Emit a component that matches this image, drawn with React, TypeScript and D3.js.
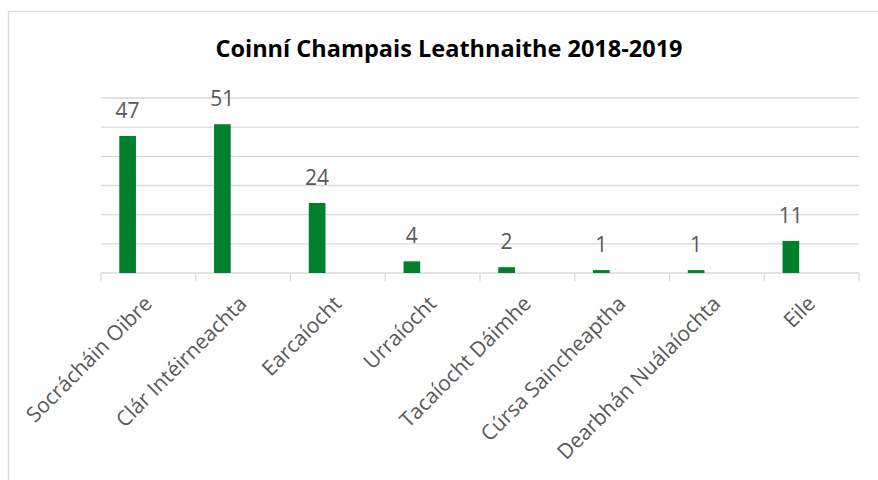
import * as d3 from "d3";

const title = "Coinní Champais Leathnaithe 2018-2019";

const categories = [
  "Socrácháin Oibre",
  "Clár Intéirneachta",
  "Earcaíocht",
  "Urraíocht",
  "Tacaíocht Dáimhe",
  "Cúrsa Saincheaptha",
  "Dearbhán Nuálaíochta",
  "Eile",
];

const values = [47, 51, 24, 4, 2, 1, 1, 11];

const gridTicks = [0, 10, 20, 30, 40, 50, 60];

const WIDTH = 878;
const HEIGHT = 480;
const MARGIN = { left: 101, right: 19, top: 98, bottom: 207 };
const BAR_COLOR = "#00802b";
const GRID_COLOR = "#d9d9d9";
const TEXT_COLOR = "#595959";
const FONT = "'Open Sans', 'DejaVu Sans', sans-serif";

export default function App() {
  const boundsWidth = WIDTH - MARGIN.left - MARGIN.right;
  const boundsHeight = HEIGHT - MARGIN.top - MARGIN.bottom;

  const xScale = d3.scaleBand<string>().domain(categories).range([0, boundsWidth]);
  const yScale = d3
    .scaleLinear()
    .domain([0, d3.max(gridTicks) as number])
    .range([boundsHeight, 0]);

  const bw = xScale.bandwidth();
  // bar sits left of the band centre, like the original's clustered layout
  const barOffset = bw * 0.193;
  const barWidth = bw * 0.176;

  return (
    <div style={{ position: "absolute", left: 0, top: 0 }}>
      <svg width={WIDTH} height={HEIGHT} style={{ display: "block" }}>
        <rect x={0} y={0} width={WIDTH} height={HEIGHT} fill="#fff" />
        <rect
          x={8.5}
          y={11.5}
          width={WIDTH + 10}
          height={HEIGHT + 10}
          fill="none"
          stroke={GRID_COLOR}
          strokeWidth={1.3}
        />
        <text
          x={449}
          y={57}
          textAnchor="middle"
          fontFamily={FONT}
          fontWeight={700}
          fontSize={23.5}
          fill="#000"
        >
          {title}
        </text>
        <g transform={`translate(${MARGIN.left},${MARGIN.top})`}>
          {gridTicks.map((t) => (
            <line
              key={t}
              x1={0}
              x2={boundsWidth}
              y1={yScale(t)}
              y2={yScale(t)}
              stroke={GRID_COLOR}
              strokeWidth={1.3}
            />
          ))}
          {categories.concat([""]).map((c, i) => {
            const x = i * bw;
            return (
              <line
                key={"tick" + i}
                x1={x}
                x2={x}
                y1={boundsHeight}
                y2={boundsHeight + 8}
                stroke={GRID_COLOR}
                strokeWidth={1.3}
              />
            );
          })}
          {categories.map((c, i) => {
            const x = (xScale(c) as number) + barOffset;
            const y = yScale(values[i]);
            return (
              <g key={c}>
                <rect
                  x={x}
                  y={y}
                  width={barWidth}
                  height={boundsHeight - y}
                  fill={BAR_COLOR}
                />
                <text
                  x={x + barWidth / 2}
                  y={y - 18}
                  textAnchor="middle"
                  fontFamily={FONT}
                  fontSize={21}
                  fill={TEXT_COLOR}
                >
                  {values[i]}
                </text>
              </g>
            );
          })}
          {categories.map((c) => {
            const cx = (xScale(c) as number) + bw / 2;
            return (
              <text
                key={"lab" + c}
                transform={`translate(${cx + 5},${boundsHeight + 32}) rotate(-45)`}
                textAnchor="end"
                fontFamily={FONT}
                fontSize={21}
                fill={TEXT_COLOR}
              >
                {c}
              </text>
            );
          })}
        </g>
      </svg>
    </div>
  );
}
